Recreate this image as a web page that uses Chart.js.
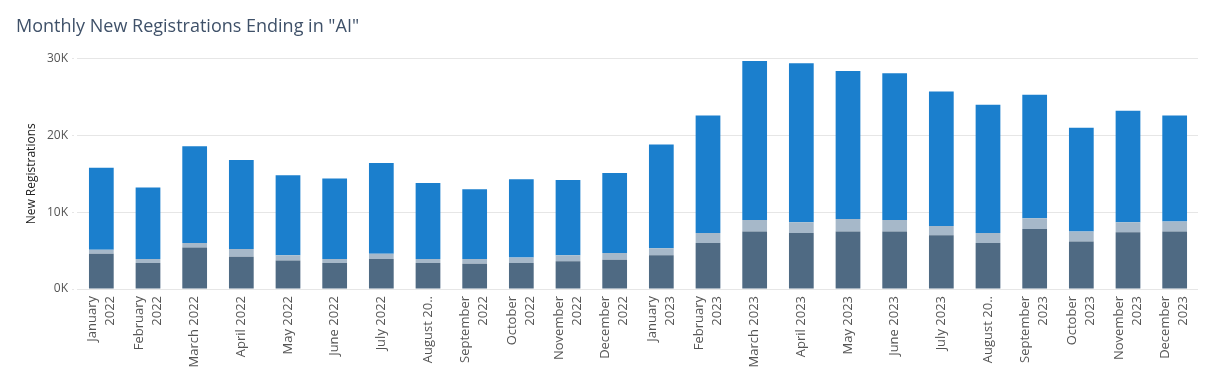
<!DOCTYPE html>
<html>
<head>
<meta charset="utf-8">
<script src="https://cdn.jsdelivr.net/npm/chart.js@4"></script>
<style>
  html, body { margin: 0; padding: 0; background: #fff; }
  #wrap { width: 1214px; height: 377px; position: relative; }
</style>
</head>
<body>
<div id="wrap"><canvas id="chart"></canvas></div>
<script>
'use strict';

// ─── Data ─────────────────────────────────────────────────────────
const months = [
  ['January', '2022'], ['February', '2022'], ['March 2022'], ['April 2022'], ['May 2022'], ['June 2022'],
  ['July 2022'], ['August 20..'], ['September', '2022'], ['October', '2022'], ['November', '2022'], ['December', '2022'],
  ['January', '2023'], ['February', '2023'], ['March 2023'], ['April 2023'], ['May 2023'], ['June 2023'],
  ['July 2023'], ['August 20..'], ['September', '2023'], ['October', '2023'], ['November', '2023'], ['December', '2023'],
];

// three stacked segments per month (bottom → top)
const darkSeg  = [4600, 3400, 5400, 4200, 3700, 3400, 3900, 3400, 3300, 3400, 3600, 3800,
                  4400, 6000, 7500, 7300, 7500, 7500, 7000, 6000, 7800, 6200, 7400, 7500];
const lightSeg = [500, 500, 600, 1000, 700, 500, 700, 500, 600, 700, 800, 900,
                  900, 1300, 1500, 1400, 1600, 1500, 1200, 1300, 1400, 1300, 1300, 1300];
const blueSeg  = [10700, 9300, 12600, 11600, 10400, 10500, 11800, 9900, 9100, 10200, 9800, 10400,
                  13500, 15300, 20700, 20700, 19300, 19100, 17500, 16700, 16100, 13500, 14500, 13800];

const yTicks = [0, 10000, 20000, 30000];

const FONT = '"Open Sans", "Noto Sans", sans-serif';

// Draw x labels ourselves so two-line labels sit centred under each bar
const xLabelPlugin = {
  id: 'xLabels',
  afterDraw(chart) {
    const ctx = chart.ctx;
    const xs = chart.scales.x;
    const top = chart.chartArea.bottom + 7;
    ctx.save();
    ctx.font = '13px ' + FONT;
    ctx.fillStyle = '#555';
    ctx.textAlign = 'right';
    ctx.textBaseline = 'middle';
    months.forEach((lines, i) => {
      const x = xs.getPixelForTick(i);
      ctx.save();
      ctx.translate(x, top);
      ctx.rotate(-Math.PI / 2);
      lines.forEach((ln, j) => {
        ctx.fillText(ln, 0, (j - (lines.length - 1) / 2) * 18);
      });
      ctx.restore();
    });
    ctx.restore();
  }
};

new Chart(document.getElementById('chart'), {
  type: 'bar',
  data: {
    labels: months.map(m => m.join(' ')),
    datasets: [
      { label: 'A', data: darkSeg,  backgroundColor: '#4f6a83' },
      { label: 'B', data: lightSeg, backgroundColor: '#a6b8c9' },
      { label: 'C', data: blueSeg,  backgroundColor: '#1b7fcd' },
    ],
  },
  options: {
    responsive: true,
    maintainAspectRatio: false,
    animation: false,
    layout: { padding: { left: 16, right: 16, top: 0, bottom: 80 } },
    datasets: { bar: { categoryPercentage: 1, barPercentage: 0.53 } },
    scales: {
      x: {
        stacked: true,
        grid: { display: false },
        border: { display: false },
        ticks: { display: false },
      },
      y: {
        stacked: true,
        min: 0,
        max: 30000,
        afterFit: s => { s.width = 62; },
        afterBuildTicks: s => { s.ticks = yTicks.map(v => ({ value: v })); },
        border: { display: false },
        grid: {
          color: '#e6e6e6',
          borderDash: [2, 3],
          tickLength: 6,
          tickBorderDash: [2, 3],
          tickColor: '#e6e6e6',
        },
        ticks: {
          padding: 4,
          color: '#555',
          font: { family: FONT, size: 12 },
          callback: v => (v / 1000) + 'K',
        },
        title: {
          display: true,
          text: 'New Registrations',
          color: '#222',
          font: { family: FONT, size: 12 },
          padding: { top: 8, bottom: 0 },
        },
      },
    },
    plugins: {
      legend: { display: false },
      tooltip: { enabled: false },
      title: {
        display: true,
        text: 'Monthly New Registrations Ending in "AI"',
        align: 'start',
        color: '#3f5169',
        font: { family: FONT, size: 18, weight: 'normal' },
        padding: { top: 16, bottom: 21 },
      },
    },
  },
  plugins: [xLabelPlugin],
});
</script>
</body>
</html>
